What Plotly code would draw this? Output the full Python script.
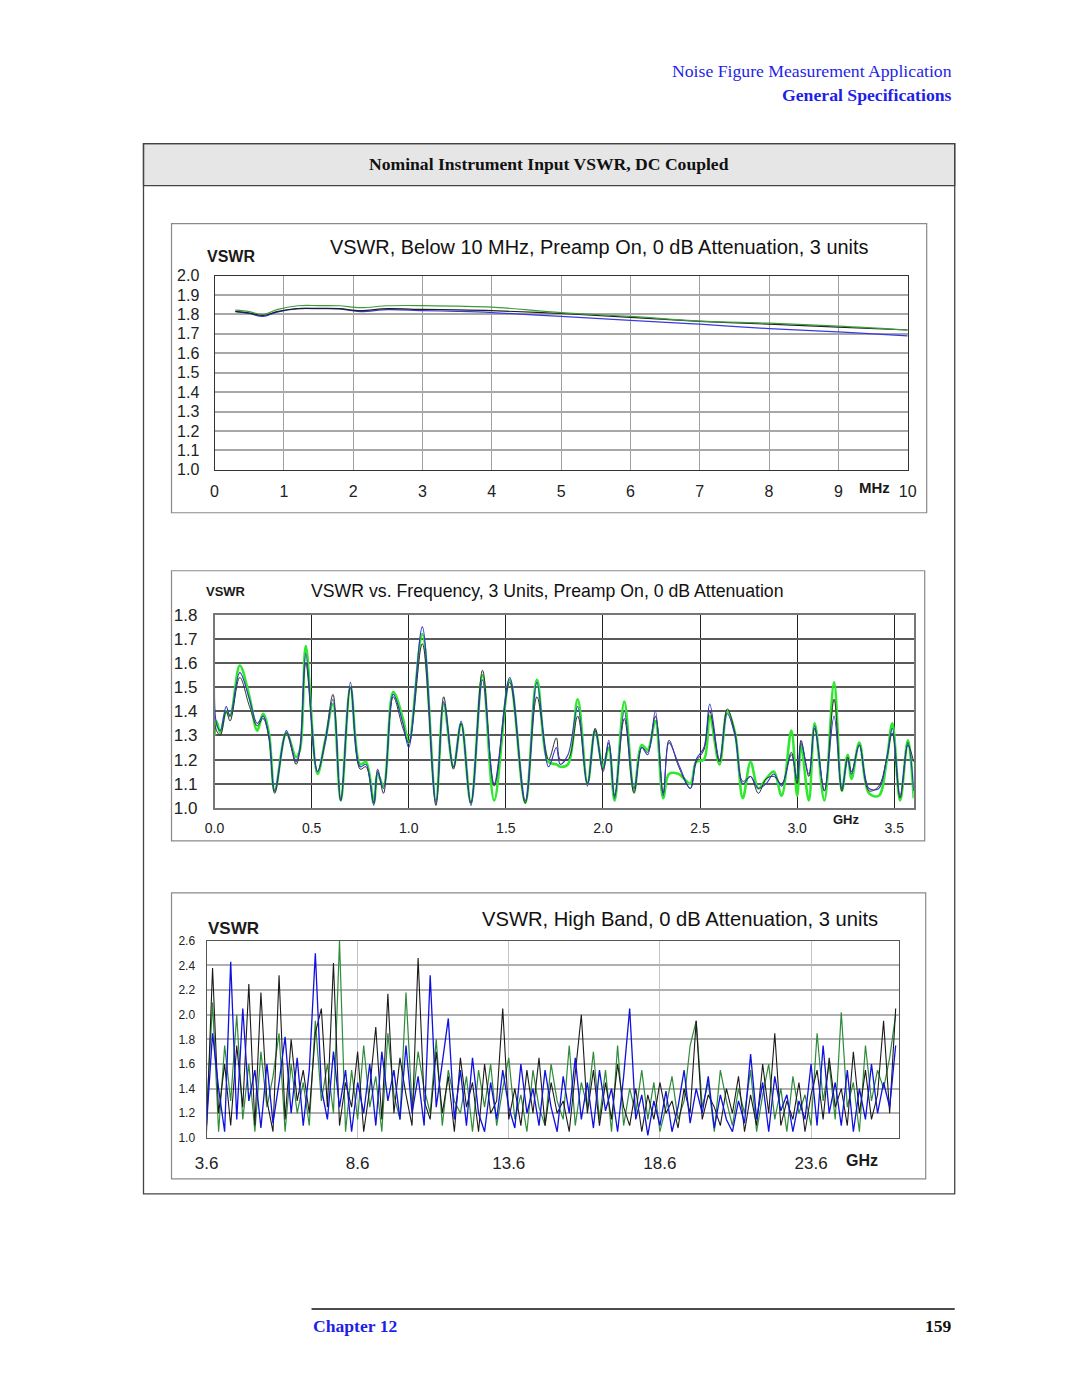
import plotly.graph_objects as go

# page is 1080x1397; the browser body keeps its default 8px margin, so the figure is 16px smaller
PAGE_W, PAGE_H = 1080, 1397
OFF = 8
W, H = PAGE_W - 2 * OFF, PAGE_H - 2 * OFF
# measured capture scaling of the page (page px -> picture px)
SX, CX = 0.98, 3.7
SY, CY = 0.986, 0.5

# ---------------- Chart 1 data (MHz) ----------------
x1 = [0.3, 0.5, 0.7, 0.9, 1.2, 1.5, 1.8, 2.1, 2.5, 3.0, 3.5, 4.0, 5.0, 6.0, 7.0, 8.0, 9.0, 10.0]
y1_green = [1.822, 1.815, 1.800, 1.825, 1.845, 1.846, 1.845, 1.835, 1.845, 1.846, 1.843, 1.838, 1.810, 1.790, 1.766, 1.755, 1.740, 1.720]
y1_black = [1.816, 1.808, 1.795, 1.815, 1.830, 1.831, 1.830, 1.820, 1.830, 1.826, 1.824, 1.820, 1.805, 1.785, 1.765, 1.750, 1.735, 1.720]
y1_blue = [1.815, 1.805, 1.790, 1.812, 1.830, 1.830, 1.829, 1.815, 1.825, 1.820, 1.816, 1.810, 1.790, 1.770, 1.750, 1.727, 1.710, 1.690]
x1_ticks = [0, 1, 2, 3, 4, 5, 6, 7, 8, 9, 10]

# ---------------- Chart 2 data (GHz) ----------------
x2 = [0.0, 0.01, 0.03, 0.06, 0.08, 0.13, 0.18, 0.22, 0.25, 0.28,
      0.31, 0.37, 0.42, 0.44, 0.47, 0.53, 0.57, 0.61, 0.65, 0.70,
      0.75, 0.78, 0.82, 0.84, 0.87, 0.92, 0.97, 1.00, 1.07, 1.14,
      1.18, 1.23, 1.27, 1.32, 1.38, 1.44, 1.52, 1.60, 1.66, 1.72,
      1.76, 1.78, 1.82, 1.87, 1.92, 1.96, 2.00, 2.03, 2.06, 2.11,
      2.16, 2.20, 2.23, 2.27, 2.31, 2.34, 2.39, 2.45, 2.48, 2.52,
      2.55, 2.60, 2.64, 2.68, 2.72, 2.76, 2.80, 2.84, 2.88, 2.92,
      2.97, 3.00, 3.02, 3.06, 3.09, 3.14, 3.19, 3.23, 3.26, 3.28,
      3.32, 3.37, 3.42, 3.46, 3.49, 3.53, 3.57, 3.60]
y2_blue = [1.50, 1.35, 1.32, 1.42, 1.38, 1.56, 1.45, 1.35, 1.38, 1.30,
           1.07, 1.32, 1.19, 1.25, 1.64, 1.15, 1.27, 1.45, 1.03, 1.52,
           1.17, 1.18, 1.01, 1.15, 1.08, 1.47, 1.35, 1.25, 1.75, 1.02,
           1.44, 1.17, 1.36, 1.01, 1.53, 1.10, 1.54, 1.03, 1.52, 1.17,
           1.25, 1.18, 1.22, 1.42, 1.09, 1.32, 1.16, 1.28, 1.04, 1.40,
           1.08, 1.25, 1.22, 1.40, 1.05, 1.27, 1.18, 1.08, 1.20, 1.25,
           1.43, 1.20, 1.39, 1.30, 1.10, 1.13, 1.08, 1.10, 1.14, 1.09,
           1.22, 1.12, 1.27, 1.14, 1.34, 1.07, 1.38, 1.08, 1.20, 1.14,
           1.26, 1.08, 1.08, 1.20, 1.33, 1.05, 1.27, 1.07]
y2_black = [1.35, 1.32, 1.30, 1.40, 1.36, 1.54, 1.42, 1.34, 1.37, 1.29,
            1.06, 1.31, 1.18, 1.24, 1.60, 1.15, 1.28, 1.47, 1.03, 1.50,
            1.16, 1.17, 1.02, 1.16, 1.06, 1.46, 1.33, 1.27, 1.68, 1.01,
            1.46, 1.16, 1.35, 1.02, 1.57, 1.09, 1.52, 1.02, 1.46, 1.20,
            1.29, 1.20, 1.20, 1.38, 1.10, 1.33, 1.15, 1.27, 1.05, 1.37,
            1.06, 1.25, 1.23, 1.38, 1.06, 1.28, 1.17, 1.08, 1.19, 1.24,
            1.40, 1.19, 1.41, 1.31, 1.11, 1.13, 1.06, 1.12, 1.13, 1.10,
            1.23, 1.10, 1.28, 1.13, 1.33, 1.07, 1.45, 1.07, 1.21, 1.15,
            1.26, 1.07, 1.09, 1.20, 1.31, 1.04, 1.26, 1.19]
y2_green = [1.30, 1.36, 1.31, 1.40, 1.38, 1.59, 1.46, 1.32, 1.39, 1.31,
            1.07, 1.31, 1.21, 1.24, 1.67, 1.14, 1.28, 1.43, 1.03, 1.50,
            1.18, 1.19, 1.02, 1.14, 1.09, 1.48, 1.37, 1.27, 1.72, 1.03,
            1.43, 1.17, 1.35, 1.02, 1.55, 1.03, 1.53, 1.02, 1.53, 1.19,
            1.18, 1.17, 1.18, 1.45, 1.10, 1.32, 1.17, 1.25, 1.03, 1.44,
            1.07, 1.26, 1.24, 1.36, 1.04, 1.14, 1.14, 1.10, 1.19, 1.20,
            1.38, 1.18, 1.40, 1.31, 1.04, 1.19, 1.08, 1.12, 1.15, 1.05,
            1.32, 1.05, 1.26, 1.03, 1.35, 1.03, 1.52, 1.07, 1.22, 1.12,
            1.27, 1.06, 1.05, 1.19, 1.35, 1.03, 1.28, 1.04]
x2_ticks = [0.0, 0.5, 1.0, 1.5, 2.0, 2.5, 3.0, 3.5]

# ---------------- Chart 3 data (GHz, swept 3.6 .. 26.4 in 0.2 GHz steps) ----------------
f3_start, f3_step, f3_count = 3.6, 0.2, 115
y3_blue = [1.10, 1.85, 1.40, 1.05, 2.43, 1.15, 2.05, 1.30, 1.55, 1.08,
           1.60, 1.12, 1.45, 1.82, 1.20, 1.65, 1.10, 1.55, 2.50, 1.40,
           1.15, 1.70, 1.25, 1.55, 1.05, 1.45, 1.20, 1.60, 1.10, 1.70,
           1.30, 1.55, 1.15, 1.75, 1.20, 1.50, 1.10, 2.32, 1.25, 1.60,
           1.97, 1.15, 1.55, 1.10, 1.65, 1.20, 1.05, 1.45, 1.15, 1.55,
           1.25, 1.08, 1.60, 1.20, 1.40, 1.10, 1.55, 1.25, 1.05, 1.50,
           1.20, 1.65, 1.15, 1.45, 1.08, 1.55, 1.22, 1.40, 1.05, 1.50,
           2.05, 1.15, 1.35, 1.02, 1.30, 1.10, 1.38, 1.05, 1.25, 1.55,
           1.12, 1.40, 1.20, 1.50, 1.08, 1.35, 1.15, 1.05, 1.30, 1.12,
           1.68, 1.15, 1.45, 1.05, 1.50, 1.22, 1.35, 1.05, 1.30, 1.15,
           1.60, 1.10, 1.75, 1.20, 1.45, 1.10, 1.55, 1.05, 1.40, 1.15,
           1.60, 1.20, 1.45, 1.25, 1.75]
y3_black = [1.05, 2.38, 1.20, 1.60, 1.10, 1.75, 1.25, 2.25, 1.10, 2.18,
            1.30, 1.05, 2.32, 1.15, 1.80, 1.30, 1.55, 1.20, 1.85, 2.05,
            1.25, 2.42, 1.10, 1.45, 1.25, 1.70, 1.05, 1.40, 1.90, 1.15,
            2.17, 1.20, 1.65, 1.35, 1.10, 2.46, 1.30, 1.15, 1.70, 1.20,
            1.50, 1.05, 1.65, 1.25, 1.45, 1.05, 1.60, 1.20, 1.30, 2.05,
            1.15, 1.40, 1.10, 1.55, 1.20, 1.65, 1.10, 1.45, 1.20, 1.30,
            1.05, 1.50, 2.00, 1.20, 1.55, 1.10, 1.45, 1.15, 1.60, 1.25,
            1.10, 1.40, 1.05, 1.35, 1.15, 1.45, 1.20, 1.30, 1.08, 1.40,
            1.20, 1.95, 1.15, 1.35, 1.25, 1.10, 1.40, 1.20, 1.50, 1.05,
            1.35, 1.10, 1.60, 1.20, 1.85, 1.10, 1.30, 1.15, 1.45, 1.05,
            1.35, 1.55, 1.15, 1.65, 1.25, 1.40, 1.10, 1.70, 1.20, 1.55,
            1.15, 1.35, 1.95, 1.20, 2.05]
y3_green = [1.20, 2.10, 1.05, 1.75, 1.30, 2.00, 1.15, 1.60, 1.05, 1.70,
            1.25, 1.50, 1.85, 1.05, 1.60, 1.20, 1.45, 1.10, 1.95, 1.30,
            1.60, 1.20, 2.60, 1.05, 1.55, 1.15, 1.75, 1.25, 1.50, 1.05,
            1.85, 1.35, 1.15, 2.18, 1.25, 1.70, 1.40, 1.20, 1.80, 1.10,
            1.55, 1.30, 1.20, 1.50, 1.05, 1.55, 1.25, 1.60, 1.10, 1.40,
            1.65, 1.15, 1.35, 1.05, 1.55, 1.25, 1.10, 1.60, 1.30, 1.15,
            1.75, 1.10, 1.45, 1.25, 1.70, 1.15, 1.55, 1.05, 1.75, 1.10,
            1.40, 1.20, 1.55, 1.15, 1.45, 1.05, 1.25, 1.50, 1.15, 1.30,
            1.75, 1.95, 1.25, 1.45, 1.05, 1.55, 1.30, 1.10, 1.40, 1.20,
            1.55, 1.05, 1.35, 1.60, 1.15, 1.40, 1.05, 1.50, 1.20, 1.35,
            1.10, 1.85, 1.30, 1.60, 1.15, 2.02, 1.25, 1.45, 1.05, 1.75,
            1.30, 1.55, 1.40, 1.65, 2.00]
x3 = [round(f3_start + f3_step * i, 2) for i in range(f3_count)]
x3_ticks = [3.6, 8.6, 13.6, 18.6, 23.6]
x3_labels = ["3.6", "8.6", "13.6", "18.6", "23.6"]


def px(x):
    return ((x - CX) / SX - OFF) / W


def py(y):
    return 1 - ((y - CY) / SY - OFF) / H


SANS = "Liberation Sans, Arial, sans-serif"
SERIF = "Liberation Serif, Times New Roman, serif"
BLUE_TXT = "#1f1fe6"

fig = go.Figure()

# chart 1 traces
for y, c in [(y1_blue, "#3a3ae0"), (y1_black, "#202020"), (y1_green, "#3c9c3c")]:
    fig.add_trace(go.Scatter(x=x1, y=y, mode="lines", line=dict(color=c, width=1.2, shape="spline"),
                             xaxis="x", yaxis="y", showlegend=False, hoverinfo="skip"))
# chart 2 traces
fig.add_trace(go.Scatter(x=x2, y=y2_green, mode="lines", line=dict(color="#2ee82e", width=2.6, shape="spline", smoothing=1.0),
                         xaxis="x2", yaxis="y2", showlegend=False, hoverinfo="skip"))
fig.add_trace(go.Scatter(x=x2, y=y2_black, mode="lines", line=dict(color="#303030", width=1.0, shape="spline", smoothing=1.0),
                         xaxis="x2", yaxis="y2", showlegend=False, hoverinfo="skip"))
fig.add_trace(go.Scatter(x=x2, y=y2_blue, mode="lines", line=dict(color="#3535c8", width=1.1, shape="spline", smoothing=1.0),
                         xaxis="x2", yaxis="y2", showlegend=False, hoverinfo="skip"))
# chart 3 traces
fig.add_trace(go.Scatter(x=x3, y=y3_green, mode="lines", line=dict(color="#2e8b3a", width=1.2),
                         xaxis="x3", yaxis="y3", showlegend=False, hoverinfo="skip"))
fig.add_trace(go.Scatter(x=x3, y=y3_black, mode="lines", line=dict(color="#1a1a1a", width=1.1),
                         xaxis="x3", yaxis="y3", showlegend=False, hoverinfo="skip"))
fig.add_trace(go.Scatter(x=x3, y=y3_blue, mode="lines", line=dict(color="#1010e0", width=1.3),
                         xaxis="x3", yaxis="y3", showlegend=False, hoverinfo="skip"))

tick_font = dict(family=SANS, size=16, color="#222")

fig.update_layout(
    width=W, height=H, margin=dict(l=0, r=0, t=0, b=0),
    paper_bgcolor="white", plot_bgcolor="white",
    xaxis=dict(domain=[px(214), px(907)], range=[0, 10], tickvals=x1_ticks, anchor="y",
               showgrid=True, gridcolor="#a0a0a0", gridwidth=1, zeroline=False,
               showline=True, mirror=True, linecolor="#333", linewidth=1,
               tickfont=tick_font, ticks="", ticklabelstandoff=7),
    yaxis=dict(domain=[py(469), py(275)], range=[1.0, 2.0], dtick=0.1, tick0=1.0, tickformat=".1f", anchor="x",
               showgrid=True, gridcolor="#a8a8a8", gridwidth=1.5, zeroline=False,
               showline=True, mirror=True, linecolor="#333", linewidth=1,
               tickfont=tick_font, ticks="", ticklabelstandoff=11),
    xaxis2=dict(domain=[px(214), px(913)], range=[0, 3.6], tickvals=x2_ticks, tickformat=".1f", anchor="y2",
                showgrid=True, gridcolor="#222", gridwidth=1, zeroline=False,
                showline=True, mirror=True, linecolor="#777", linewidth=1.5,
                tickfont=dict(family=SANS, size=14, color="#222"), ticks="", ticklabelstandoff=7),
    yaxis2=dict(domain=[py(807), py(614)], range=[1.0, 1.8], dtick=0.1, tick0=1.0, tickformat=".1f", anchor="x2",
                showgrid=True, gridcolor="#5a5a5a", gridwidth=1.6, zeroline=False,
                showline=True, mirror=True, linecolor="#777", linewidth=1.5,
                tickfont=dict(family=SANS, size=17, color="#222"), ticks="", ticklabelstandoff=12),
    xaxis3=dict(domain=[px(206), px(898)], range=[3.6, 26.5], tickvals=x3_ticks, ticktext=x3_labels, anchor="y3",
                showgrid=True, gridcolor="#c4c4c4", gridwidth=1, zeroline=False,
                showline=True, mirror=True, linecolor="#555", linewidth=1,
                tickfont=dict(family=SANS, size=17, color="#222"), ticks="", ticklabelstandoff=10),
    yaxis3=dict(domain=[py(1137), py(940)], range=[1.0, 2.6], dtick=0.2, tick0=1.0, tickformat=".1f", anchor="x3",
                showgrid=True, gridcolor="#b0b0b0", gridwidth=1.6, zeroline=False,
                showline=True, mirror=True, linecolor="#555", linewidth=1,
                tickfont=dict(family=SANS, size=12, color="#222"), ticks="", ticklabelstandoff=8),
)

shapes = []
# page frame box and title row
shapes.append(dict(type="rect", xref="paper", yref="paper", x0=px(143), x1=px(954), y0=py(185), y1=py(143),
                   fillcolor="#e6e6e6", line=dict(color="#444", width=1.3), layer="below"))
shapes.append(dict(type="rect", xref="paper", yref="paper", x0=px(143), x1=px(954), y0=py(1193), y1=py(143),
                   fillcolor="rgba(0,0,0,0)", line=dict(color="#444", width=1.3)))
# chart panels
for (a, b, c, d) in [(171, 223, 926, 512), (171, 570, 924, 840), (171, 892, 925, 1178)]:
    shapes.append(dict(type="rect", xref="paper", yref="paper", x0=px(a), x1=px(c), y0=py(d), y1=py(b),
                       fillcolor="rgba(0,0,0,0)", line=dict(color="#8a8a8a", width=1.2), layer="below"))
# footer rule
shapes.append(dict(type="line", xref="paper", yref="paper", x0=px(311), x1=px(954), y0=py(1308), y1=py(1308),
                   line=dict(color="#111", width=1.5)))
fig.update_layout(shapes=shapes)

ann = []


def add_text(text, x, y, size, family=SANS, color="#111", xanchor="center", bold=False):
    t = f"<b>{text}</b>" if bold else text
    ann.append(dict(text=t, x=px(x), y=py(y), xref="paper", yref="paper", showarrow=False,
                    xanchor=xanchor, yanchor="middle", font=dict(family=family, size=size, color=color)))


# header
add_text("Noise Figure Measurement Application", 953, 70, 17.7, SERIF, BLUE_TXT, "right")
add_text("General Specifications", 953, 94, 17.7, SERIF, BLUE_TXT, "right", bold=True)
add_text("Nominal Instrument Input VSWR, DC Coupled", 548, 163, 17.6, SERIF, "#111", "center", bold=True)
# chart 1 labels
add_text("VSWR, Below 10 MHz, Preamp On, 0 dB Attenuation, 3 units", 598, 246, 19.9, SANS, "#111")
add_text("VSWR", 204, 256, 16, SANS, "#1a1a1a", "left", bold=True)
add_text("MHz", 856, 487, 15, SANS, "#1a1a1a", "left", bold=True)
# chart 2 labels
add_text("VSWR vs. Frequency, 3 Units, Preamp On, 0 dB Attenuation", 547, 590, 17.7, SANS, "#111")
add_text("VSWR", 203, 591, 13, SANS, "#1a1a1a", "left", bold=True)
add_text("GHz", 830, 819, 13, SANS, "#1a1a1a", "left", bold=True)
# chart 3 labels
add_text("VSWR, High Band, 0 dB Attenuation, 3 units", 679, 918, 20.2, SANS, "#111")
add_text("VSWR", 205, 928, 17, SANS, "#1a1a1a", "left", bold=True)
add_text("GHz", 843, 1160, 16, SANS, "#1a1a1a", "left", bold=True)
# footer
add_text("Chapter 12", 310, 1325, 17.6, SERIF, BLUE_TXT, "left", bold=True)
add_text("159", 953, 1325, 17.6, SERIF, "#111", "right", bold=True)

fig.update_layout(annotations=ann)

fig.write_html("out.html")
